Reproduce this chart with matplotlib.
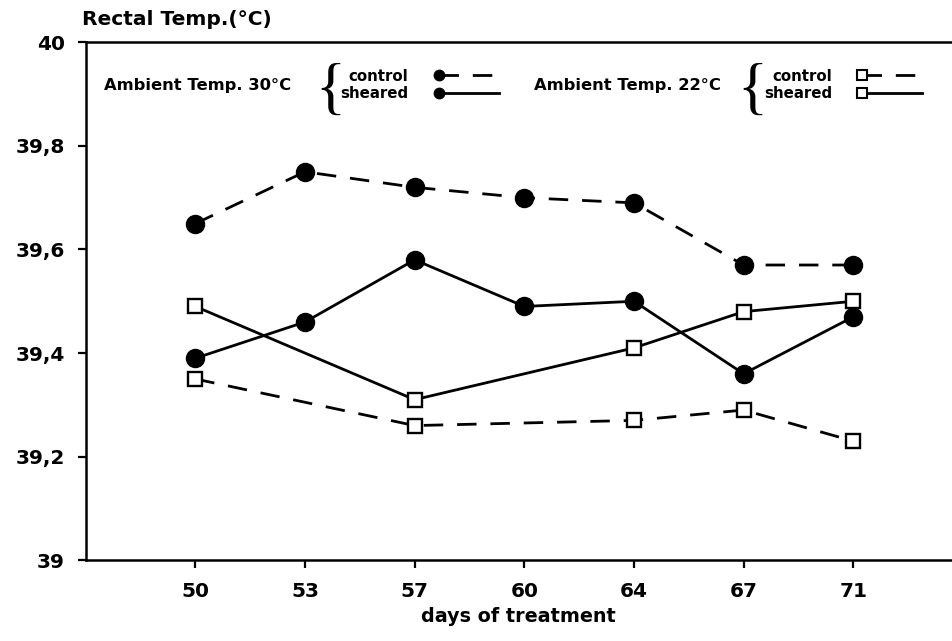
# rectal temperature of control vs sheared animals at two ambient temperatures
import numpy as np
import matplotlib.pyplot as plt
from matplotlib.lines import Line2D
from matplotlib.legend_handler import HandlerLine2DCompound

plt.rcParams['font.family'] = ['DejaVu Sans']
plt.rcParams['font.weight'] = 'bold'
plt.rcParams['axes.labelweight'] = 'bold'

# data
days = ['50', '53', '57', '60', '64', '67', '71']
control_30 = [39.65, 39.75, 39.72, 39.70, 39.69, 39.57, 39.57]
sheared_30 = [39.39, 39.46, 39.58, 39.49, 39.50, 39.36, 39.47]
days_22 = ['50', '57', '64', '67', '71']
control_22 = [39.35, 39.26, 39.27, 39.29, 39.23]
sheared_22 = [39.49, 39.31, 39.41, 39.48, 39.50]
yticks = [39, 39.2, 39.4, 39.6, 39.8, 40]
ytick_labels = ['39', '39,2', '39,4', '39,6', '39,8', '40']


# legend handle with the marker at the left end of the line
class MarkerLeft(HandlerLine2DCompound):
    def get_xdata(self, legend, xdescent, ydescent, width, height, fontsize):
        xdata = np.linspace(-xdescent, -xdescent + width, 2)
        return xdata, xdata[:1]


x = np.arange(len(days))
x22 = [days.index(d) for d in days_22]

dash = (0, (7, 5))
circ = dict(marker='o', color='black', markersize=13, lw=2)
sq = dict(marker='s', color='black', markersize=10.5, lw=2,
          markerfacecolor='white', markeredgewidth=1.7)

fig = plt.figure(figsize=(9.52, 6.41), dpi=100)
ax = fig.add_axes([0.09, 0.126, 0.91, 0.808])

ax.plot(x, control_30, linestyle=dash, **circ)
ax.plot(x, sheared_30, linestyle='-', **circ)
ax.plot(x22, control_22, linestyle=dash, **sq)
ax.plot(x22, sheared_22, linestyle='-', **sq)

ax.set_xlim(-1, 6.9)
ax.set_ylim(39, 40)
ax.set_xticks(x)
ax.set_xticklabels(days, fontsize=14.5)
ax.set_yticks(yticks)
ax.set_yticklabels(ytick_labels, fontsize=14.5)
ax.tick_params(axis='y', direction='out', length=6, width=1.6, pad=9)
ax.tick_params(axis='x', direction='out', length=6, width=1.6, pad=10)
ax.spines['right'].set_visible(False)
for s in ['left', 'bottom', 'top']:
    ax.spines[s].set_linewidth(1.8)
ax.set_xlabel('days of treatment', fontsize=13.8, labelpad=4)
fig.text(0.086, 0.969, 'Rectal Temp.(°C)', fontsize=14.5, va='center', ha='left')

# legends
lh = dict(color='black', markersize=7.5, lw=2)
c30 = Line2D([], [], linestyle=dash, marker='o', **lh)
s30 = Line2D([], [], linestyle='-', marker='o', **lh)
c22 = Line2D([], [], linestyle=dash, marker='s', markerfacecolor='white',
             markeredgewidth=1.5, **lh)
s22 = Line2D([], [], linestyle='-', marker='s', markerfacecolor='white',
             markeredgewidth=1.5, **lh)

common = dict(frameon=False, markerfirst=False, fontsize=10.8, handlelength=4.0,
              handletextpad=2.0, labelspacing=0.15, borderpad=0, borderaxespad=0,
              handler_map={Line2D: MarkerLeft()})
leg1 = ax.legend([c30, s30], ['control', 'sheared'], loc='center left',
                 bbox_to_anchor=(0.294, 0.918), **common)
ax.add_artist(leg1)
ax.legend([c22, s22], ['control', 'sheared'], loc='center left',
          bbox_to_anchor=(0.783, 0.918), **common)

ax.text(0.021, 0.917, 'Ambient Temp. 30°C', transform=ax.transAxes,
        fontsize=11.8, va='center', ha='left')
ax.text(0.282, 0.902, '{', transform=ax.transAxes, fontsize=45,
        va='center', ha='center', fontweight='normal', family='Liberation Serif')
ax.text(0.517, 0.917, 'Ambient Temp. 22°C', transform=ax.transAxes,
        fontsize=11.8, va='center', ha='left')
ax.text(0.769, 0.902, '{', transform=ax.transAxes, fontsize=45,
        va='center', ha='center', fontweight='normal', family='Liberation Serif')

plt.savefig('out.png', dpi=100)
